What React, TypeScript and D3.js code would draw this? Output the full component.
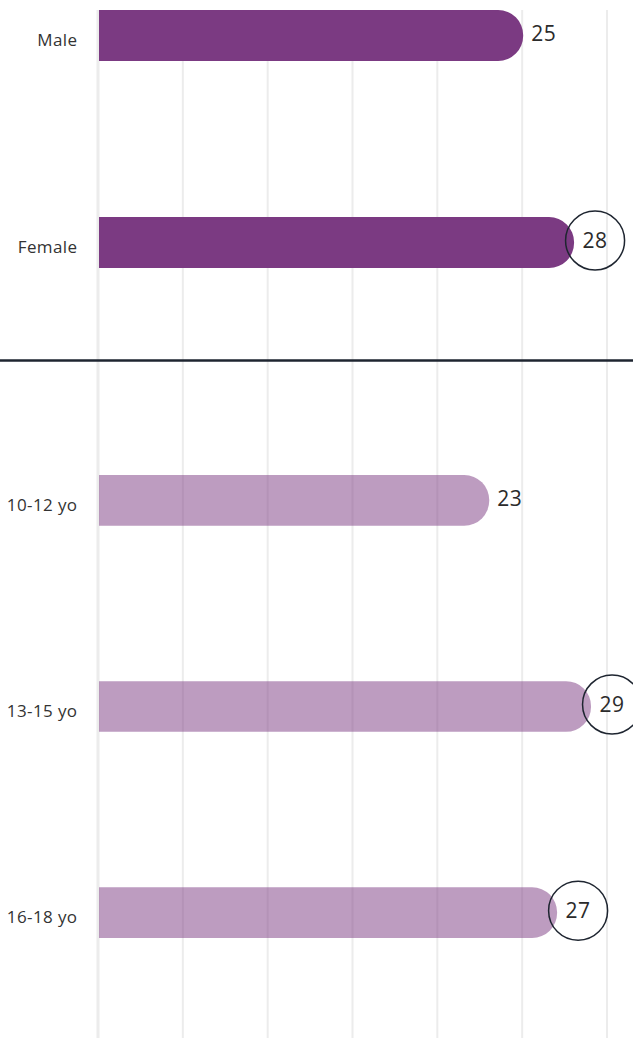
import React, { useEffect, useRef } from "react"
import * as d3 from "d3"

const genders = ["Male", "Female"]
const genderValues = [25, 28]
const genderCircled = [false, true]

const ages = ["10-12 yo", "13-15 yo", "16-18 yo"]
const ageValues = [23, 29, 27]
const ageCircled = [false, true, true]

const ticks = [0, 5, 10, 15, 20, 25, 30]

const width = 633
const height = 1038
const purple = "#7b3a82"

const App = () => {
	const svgRef = useRef<SVGSVGElement>(null)

	useEffect(() => {
		document.body.style.margin = "0"
		const svg = d3.select(svgRef.current)
		svg.selectAll("*").remove()

		const x = d3.scaleLinear().domain([0, 30]).range([98, 607])

		// gridlines under the bars
		svg.append("g")
			.selectAll("line")
			.data(ticks)
			.join("line")
			.attr("x1", (d) => x(d))
			.attr("x2", (d) => x(d))
			.attr("y1", 10)
			.attr("y2", height)
			.attr("stroke", "#ececec")
			.attr("stroke-width", (d) => (d === 0 ? 3 : 2))

		const groups = [
			{ cats: genders, vals: genderValues, circled: genderCircled, range: [10, 268], opacity: 1 },
			{ cats: ages, vals: ageValues, circled: ageCircled, range: [475, 938], opacity: 0.5 },
		]

		groups.forEach((grp) => {
			const y = d3
				.scaleBand()
				.domain(grp.cats)
				.range(grp.range as [number, number])
				.paddingInner(0.754)
				.paddingOuter(0)
			const bw = y.bandwidth()
			const rows = grp.cats.map((c, i) => ({ cat: c, val: grp.vals[i], circled: grp.circled[i] }))

			const barPath = (d) => {
				const p = d3.path()
				const x0 = x(0) + 1
				const x1 = x(d.val) + 1
				const y0 = y(d.cat)
				const r = 25
				p.moveTo(x0, y0)
				p.lineTo(x1 - r, y0)
				p.arcTo(x1, y0, x1, y0 + r, r)
				p.lineTo(x1, y0 + bw - r)
				p.arcTo(x1, y0 + bw, x1 - r, y0 + bw, r)
				p.lineTo(x0, y0 + bw)
				p.closePath()
				return p.toString()
			}

			const g = svg.append("g")

			g.selectAll("path")
				.data(rows)
				.join("path")
				.attr("d", barPath)
				.attr("fill", purple)
				.attr("fill-opacity", grp.opacity)

			g.selectAll(".label")
				.data(rows)
				.join("text")
				.attr("class", "label")
				.attr("x", 77.5)
				.attr("y", (d) => y(d.cat) + bw / 2 + 4)
				.attr("text-anchor", "end")
				.attr("dominant-baseline", "central")
				.attr("font-size", 17)
				.attr("letter-spacing", 0.4)
				.attr("fill", "#333")
				.text((d) => d.cat)

			g.selectAll("circle")
				.data(rows.filter((d) => d.circled))
				.join("circle")
				.attr("cx", (d) => x(d.val) + 22)
				.attr("cy", (d) => y(d.cat) + bw / 2 - 2)
				.attr("r", 29.5)
				.attr("fill", "none")
				.attr("stroke", "#1e2530")
				.attr("stroke-width", 1.5)

			g.selectAll(".value")
				.data(rows)
				.join("text")
				.attr("class", "value")
				.attr("x", (d) => (d.circled ? x(d.val) + 22 : x(d.val) + 9))
				.attr("y", (d) => y(d.cat) + bw / 2 - 2.5)
				.attr("text-anchor", (d) => (d.circled ? "middle" : "start"))
				.attr("dominant-baseline", "central")
				.attr("font-size", 21)
				.attr("letter-spacing", 0.5)
				.attr("fill", "#2b2b2b")
				.text((d) => d.val)
		})

		// divider between the two groups
		svg.append("line")
			.attr("x1", 0)
			.attr("x2", width)
			.attr("y1", 360.5)
			.attr("y2", 360.5)
			.attr("stroke", "#1e2530")
			.attr("stroke-width", 2.5)
	}, [])

	return (
		<svg
			ref={svgRef}
			width={width}
			height={height}
			style={{ display: "block", fontFamily: "'Open Sans', sans-serif" }}
		/>
	)
}

export default App
